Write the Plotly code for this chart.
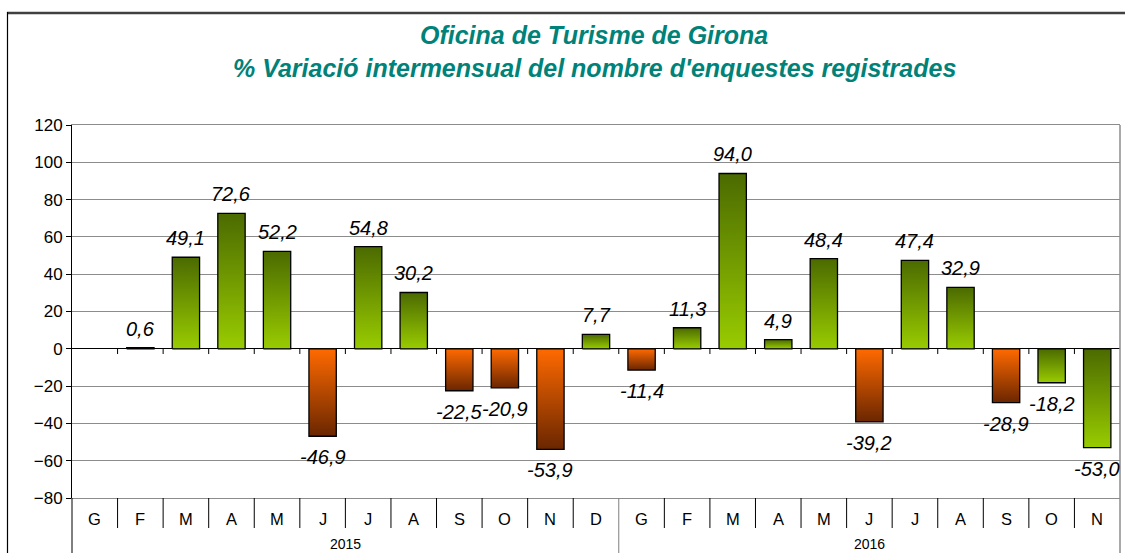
import plotly.graph_objects as go

# ---- data ----
months = ["G", "F", "M", "A", "M", "J", "J", "A", "S", "O", "N", "D",
          "G", "F", "M", "A", "M", "J", "J", "A", "S", "O", "N"]
years = ["2015", "2016"]
year_counts = [12, 11]
values = [None, 0.6, 49.1, 72.6, 52.2, -46.9, 54.8, 30.2, -22.5, -20.9, -53.9, 7.7,
          -11.4, 11.3, 94.0, 4.9, 48.4, -39.2, 47.4, 32.9, -28.9, -18.2, -53.0]
color_group = ["green", "green", "green", "green", "green", "orange", "green", "green",
               "orange", "orange", "orange", "green",
               "orange", "green", "green", "green", "green", "orange", "green", "green",
               "orange", "green", "green"]
y_ticks = [-80, -60, -40, -20, 0, 20, 40, 60, 80, 100, 120]

# ---- styles ----
W, H = 1125, 553
L, R, T, B = 72, 5, 125, 55
PW, PH = W - L - R, H - T - B
FONT = "Liberation Sans, Arial, sans-serif"
scales = {
    "green": [[0, "#99CC00"], [1, "#4B6A00"]],
    "orange": [[0, "#6A2600"], [1, "#FF6A00"]],
}
half = 0.3


def px_x(px):
    return (px - L) / PW


def px_y(py):
    return (H - B - py) / PH


fig = go.Figure()
for i, v in enumerate(values):
    if v is None:
        continue
    fig.add_trace(go.Scatter(
        x=[i - half, i - half, i + half, i + half, i - half],
        y=[0, v, v, 0, 0],
        mode="lines",
        fill="toself",
        fillgradient=dict(type="vertical", colorscale=scales[color_group[i]]),
        line=dict(color="black", width=1.3),
        hoverinfo="skip",
        showlegend=False,
    ))

annotations = []
for i, v in enumerate(values):
    if v is None:
        continue
    txt = f"{v:.1f}".replace(".", ",")
    annotations.append(dict(
        x=i, y=v, xref="x", yref="y", text=txt, showarrow=False,
        yanchor="bottom" if v >= 0 else "top",
        yshift=6 if v >= 0 else -8,
        font=dict(family=FONT, size=20, color="black", style="italic"),
    ))

# month labels
for i, m in enumerate(months):
    annotations.append(dict(
        x=i, y=px_y(519), xref="x", yref="paper", text=m, showarrow=False,
        yanchor="middle", font=dict(family=FONT, size=16.5, color="black"),
    ))
# year labels
start = 0
for yname, cnt in zip(years, year_counts):
    annotations.append(dict(
        x=start + (cnt - 1) / 2, y=px_y(544), xref="x", yref="paper", text=yname,
        showarrow=False, yanchor="middle",
        font=dict(family=FONT, size=14, color="black"),
    ))
    start += cnt

# title
annotations.append(dict(
    x=px_x(594), y=px_y(35), xref="paper", yref="paper", showarrow=False,
    text="<b><i>Oficina de Turisme de Girona</i></b>", yanchor="middle",
    font=dict(family=FONT, size=25, color="#008278"),
))
annotations.append(dict(
    x=px_x(594), y=px_y(68), xref="paper", yref="paper", showarrow=False,
    text="<b><i>% Variació intermensual del nombre d'enquestes registrades</i></b>",
    yanchor="middle", font=dict(family=FONT, size=25, color="#008278"),
))

shapes = []
n = len(months)
boundary = 0
year_bounds = []
for cnt in year_counts[:-1]:
    boundary += cnt
    year_bounds.append(boundary - 0.5)
for k in range(n - 1):
    xb = k + 0.5
    if xb in year_bounds:
        shapes.append(dict(type="line", xref="x", yref="paper", x0=xb, x1=xb,
                           y0=0, y1=px_y(H), line=dict(color="#7f7f7f", width=1)))
    else:
        shapes.append(dict(type="line", xref="x", yref="paper", x0=xb, x1=xb,
                           y0=0, y1=px_y(528), line=dict(color="black", width=1)))
    shapes.append(dict(type="line", xref="x", yref="y", x0=xb, x1=xb,
                       y0=0, y1=-2.8, line=dict(color="black", width=1)))
shapes.append(dict(type="line", xref="paper", yref="paper", x0=1, x1=1,
                   y0=px_y(H), y1=1, line=dict(color="#8c8c8c", width=1.5)))
shapes.append(dict(type="line", xref="paper", yref="paper", x0=0, x1=0,
                   y0=px_y(H), y1=0, line=dict(color="black", width=1)))
shapes.append(dict(type="line", xref="paper", yref="paper", x0=px_x(7), x1=px_x(W),
                   y0=px_y(13), y1=px_y(13), line=dict(color="#404040", width=2.5)))
shapes.append(dict(type="line", xref="paper", yref="paper", x0=px_x(7.5), x1=px_x(7.5),
                   y0=px_y(H), y1=px_y(12), line=dict(color="black", width=1.2)))

fig.update_layout(
    width=W, height=H,
    margin=dict(l=L, r=R, t=T, b=B),
    paper_bgcolor="white", plot_bgcolor="white",
    showlegend=False,
    annotations=annotations,
    shapes=shapes,
    xaxis=dict(range=[-0.5, n - 0.5], showticklabels=False, showgrid=False,
               zeroline=False, showline=True, mirror=True, linecolor="#8c8c8c",
               linewidth=1, ticks=""),
    yaxis=dict(range=[-80, 120], tickvals=y_ticks, showgrid=True,
               gridcolor="#8c8c8c", gridwidth=1, zeroline=True, zerolinecolor="black",
               zerolinewidth=1, showline=True, linecolor="black", linewidth=1,
               ticks="outside", ticklen=5, tickcolor="black",
               tickfont=dict(family=FONT, size=17, color="black")),
)

fig.write_html("out.html", config={"displayModeBar": False},
               post_script="document.body.style.margin='0px';")
